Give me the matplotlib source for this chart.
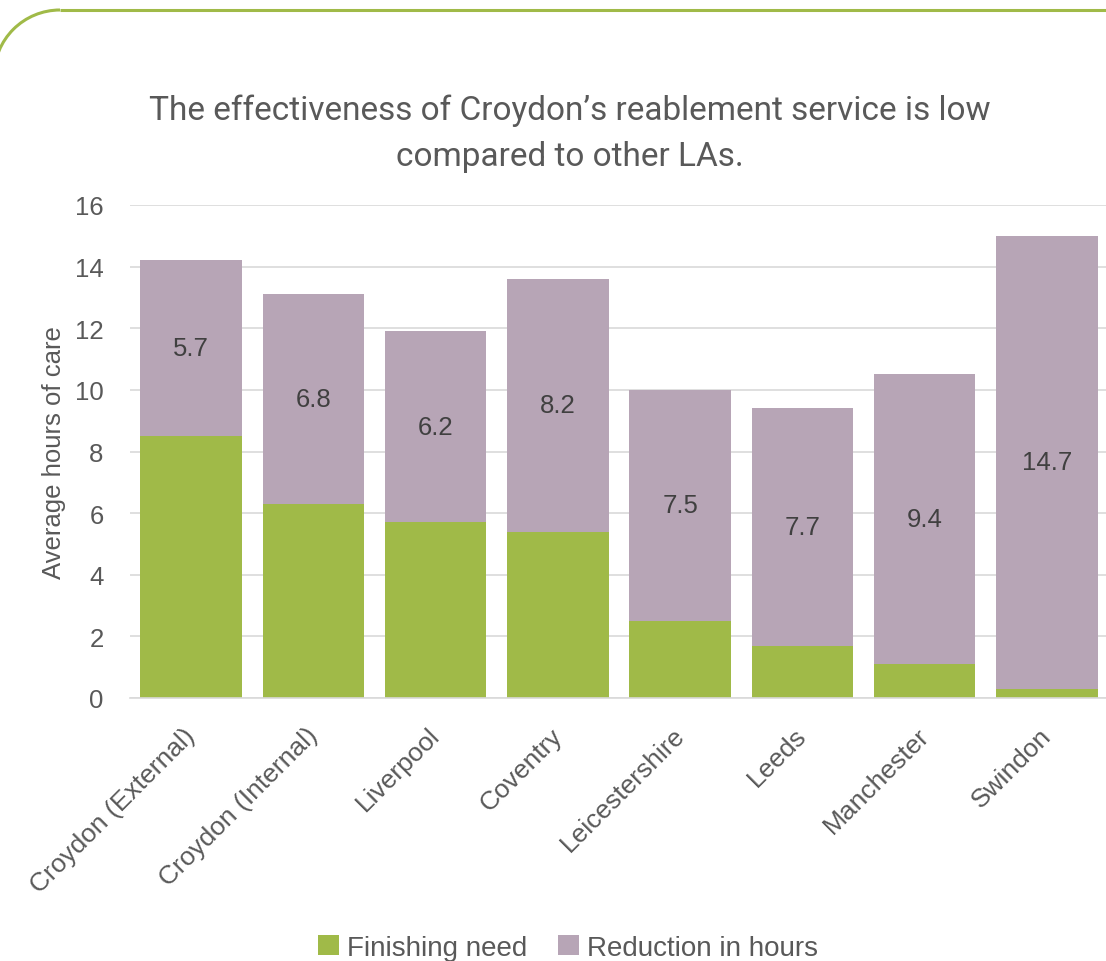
import numpy as np
import matplotlib
matplotlib.use("Agg")
import matplotlib.pyplot as plt
import matplotlib.transforms as mtransforms
from matplotlib.patches import Arc

categories = ["Croydon (External)", "Croydon (Internal)", "Liverpool", "Coventry",
              "Leicestershire", "Leeds", "Manchester", "Swindon"]
finishing_need = [8.5, 6.3, 5.7, 5.4, 2.5, 1.7, 1.1, 0.3]
reduction_hours = [5.7, 6.8, 6.2, 8.2, 7.5, 7.7, 9.4, 14.7]
y_ticks = [0, 2, 4, 6, 8, 10, 12, 14, 16]

GREEN = "#A0BA48"
PURPLE = "#B7A5B6"
TEXT = "#595959"
FS = 18.5

plt.rcParams["font.family"] = ["Liberation Sans", "DejaVu Sans"]

W, H = 1106, 962
fig = plt.figure(figsize=(W / 100, H / 100), dpi=100)

# decorative rounded frame in the top-left corner (pixel coordinates)
deco = fig.add_axes([0, 0, 1, 1], zorder=0)
deco.set_xlim(0, W)
deco.set_ylim(H, 0)
deco.axis("off")
r = 66
cx, cy = -6 + r, 11 + r
deco.add_patch(Arc((cx, cy), 2 * r, 2 * r, theta1=180, theta2=270,
                   color=GREEN, lw=2.2))
deco.plot([cx, W + 5], [11, 11], color=GREEN, lw=2.2, solid_capstyle="butt")

ax = fig.add_axes([130 / W, 1 - 699 / H, 978 / W, 493 / H], zorder=1)
ax.patch.set_alpha(0)
x = np.arange(len(categories))
width = 0.83
ax.bar(x, finishing_need, width, color=GREEN, label="Finishing need", zorder=2)
ax.bar(x, reduction_hours, width, bottom=finishing_need, color=PURPLE,
       label="Reduction in hours", zorder=2)

for xi, b, v in zip(x, finishing_need, reduction_hours):
    ax.text(xi, b + v / 2, f"{v:.1f}", ha="center", va="center",
            fontsize=FS, color="#404040", zorder=3)

ax.set_xlim(-0.5, len(categories) - 0.5)
ax.set_ylim(0, 16)
ax.set_yticks(y_ticks)
ax.yaxis.grid(True, color="#D9D9D9", lw=1.2, zorder=0)
ax.set_axisbelow(True)
for s in ["top", "right", "left"]:
    ax.spines[s].set_visible(False)
ax.spines["bottom"].set_color("#D9D9D9")
ax.spines["bottom"].set_linewidth(1.2)
ax.tick_params(axis="both", length=0, colors=TEXT, labelsize=FS)
ax.tick_params(axis="y", pad=19)
ax.set_xticks(x)
ax.set_xticklabels(categories, rotation=45, ha="right", va="top",
                   rotation_mode="anchor", fontsize=19, color=TEXT)
shift = mtransforms.ScaledTranslation(-0.08, -0.2, fig.dpi_scale_trans)
for lbl in ax.get_xticklabels():
    lbl.set_transform(lbl.get_transform() + shift)
ax.set_ylabel("Average hours of care", fontsize=FS, color=TEXT)
ax.yaxis.set_label_coords(-64 / 978, 0.5)

fig.text(570 / W, 1 - 134 / H,
         "The effectiveness of Croydon\u2019s reablement service is low\ncompared to other LAs.",
         ha="center", va="center", fontsize=24, color=TEXT, linespacing=1.55,
         family=["Roboto", "DejaVu Sans"])

ax.legend(loc="center", bbox_to_anchor=((568 - 130) / 978, (699 - 949) / 493),
          ncol=2, frameon=False, handlelength=0.75, handleheight=0.75,
          handletextpad=0.3, columnspacing=1.1, labelcolor=TEXT,
          prop={"family": ["Liberation Sans Narrow", "Liberation Sans"], "size": 20})

fig.savefig("out.png", dpi=100)
